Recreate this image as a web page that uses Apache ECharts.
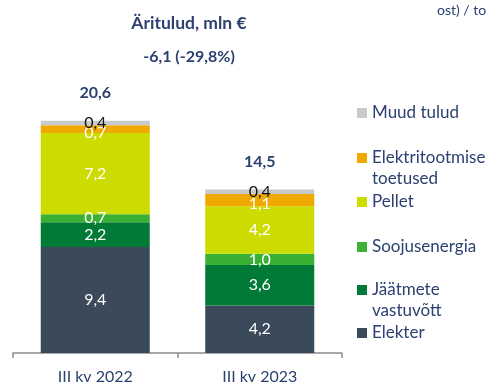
<!DOCTYPE html>
<html>
<head>
<meta charset="utf-8">
<script src="https://cdn.jsdelivr.net/npm/echarts@6/dist/echarts.min.js"></script>
<style>
  html, body { margin: 0; padding: 0; background: #fff; }
  #chart { width: 489px; height: 385px; }
</style>
</head>
<body>
<div id="chart"></div>
<script>
// Quarterly operating revenue, million euros, split by revenue stream
const categories = ['III kv 2022', 'III kv 2023'];

const elekter = [9.4, 4.2];
const jaatmeteVastuvott = [2.2, 3.6];
const soojusenergia = [0.7, 1.0];
const pellet = [7.2, 4.2];
const elektritootmiseToetused = [0.7, 1.1];
const muudTulud = [0.4, 0.4];
const totals = [20.6, 14.5];

const NAVY = '#2C4170';
const FONT = 'Lato, "Liberation Sans", sans-serif';

const seriesDefs = [
  { name: 'Elekter', data: elekter, color: '#3A4A5A', legendTop: 324, label: '' },
  { name: 'Jäätmete vastuvõtt', data: jaatmeteVastuvott, color: '#007A36', legendTop: 281, label: 'Jäätmete' },
  { name: 'Soojusenergia', data: soojusenergia, color: '#3AB034', legendTop: 238, label: '' },
  { name: 'Pellet', data: pellet, color: '#CCDC00', legendTop: 193, label: '' },
  { name: 'Elektritootmise toetused', data: elektritootmiseToetused, color: '#F0A900', legendTop: 149, label: 'Elektritootmise', offset: [0, 4] },
  { name: 'Muud tulud', data: muudTulud, color: '#C6CACA', legendTop: 104, label: '', labelColor: '#111' }
];

const fmt = v => v.toFixed(1).replace('.', ',');

const series = seriesDefs.map(d => ({
  name: d.name,
  type: 'bar',
  stack: 'total',
  barWidth: 109,
  data: d.data,
  itemStyle: { color: d.color },
  label: {
    show: true,
    position: 'inside',
    offset: d.offset || [0, 0],
    color: d.labelColor || '#fff',
    fontFamily: FONT,
    fontSize: 16,
    formatter: p => fmt(p.value)
  },
  emphasis: { disabled: true }
}));

// zero-height cap carrying the total above each stack
series.push({
  name: 'Kokku',
  type: 'bar',
  stack: 'total',
  barWidth: 109,
  data: totals.map(() => 0),
  itemStyle: { color: 'transparent' },
  label: {
    show: true,
    position: 'top',
    distance: 20,
    color: NAVY,
    fontFamily: FONT,
    fontWeight: 'bold',
    fontSize: 16,
    formatter: p => fmt(totals[p.dataIndex])
  },
  emphasis: { disabled: true }
});

const legends = seriesDefs.map(d => ({
  data: [d.name],
  left: 357,
  top: d.legendTop,
  padding: 0,
  icon: 'rect',
  itemWidth: 10,
  itemHeight: 10,
  selectedMode: false,
  textStyle: { color: NAVY, fontFamily: FONT, fontSize: 17, lineHeight: 18 },
  formatter: () => d.label || d.name
}));

const chart = echarts.init(document.getElementById('chart'));
chart.setOption({
  animation: false,
  title: [
    {
      text: 'Äritulud, mln €',
      left: 184, top: 9, textAlign: 'center',
      textStyle: { color: NAVY, fontFamily: FONT, fontWeight: 'bold', fontSize: 17.5 }
    },
    {
      text: '-6,1 (-29,8%)',
      left: 184, top: 44, textAlign: 'center',
      textStyle: { color: NAVY, fontFamily: FONT, fontWeight: 'bold', fontSize: 16 }
    }
  ],
  legend: legends,
  grid: { left: 13, right: 147, top: 71, bottom: 31 },
  xAxis: {
    type: 'category',
    data: categories,
    axisLine: { lineStyle: { color: '#8C8C8C', width: 1.5 } },
    axisTick: { show: true, length: 5, lineStyle: { color: '#8C8C8C', width: 1.5 } },
    axisLabel: { color: NAVY, fontFamily: FONT, fontSize: 16, margin: 16 }
  },
  yAxis: {
    type: 'value',
    min: 0, max: 25,
    show: false,
    splitLine: { show: false }
  },
  graphic: [
    {
      type: 'text', left: 437, top: 3,
      style: { text: 'ost) / to', fill: NAVY, font: '14px ' + FONT }
    },
    {
      type: 'text', left: 372, top: 170,
      style: { text: 'toetused', fill: NAVY, font: '17px ' + FONT }
    },
    {
      type: 'text', left: 372, top: 302,
      style: { text: 'vastuvõtt', fill: NAVY, font: '17px ' + FONT }
    }
  ],
  series: series
});
</script>
</body>
</html>
